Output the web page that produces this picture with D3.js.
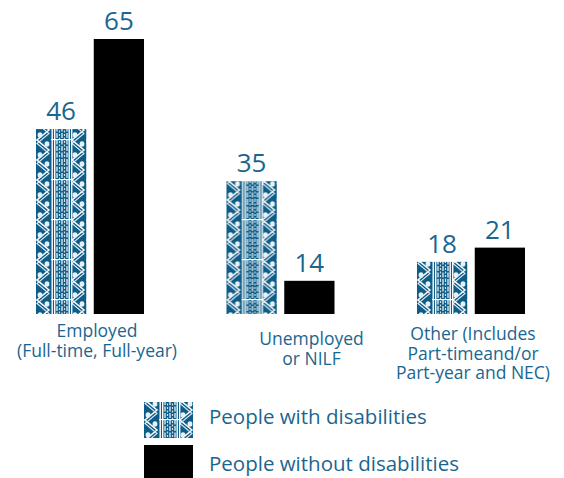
<!DOCTYPE html>
<html><head><meta charset="utf-8">
<script src="https://cdn.jsdelivr.net/npm/d3@7"></script>
<style>body{margin:0;background:#fff}svg{display:block}</style>
</head><body>
<svg id="c" width="564" height="478"></svg>
<script>
const categories = ["Employed", "Unemployed", "Other"];
const categoryLabels = [
  ["Employed", "(Full-time, Full-year)"],
  ["Unemployed", "or NILF"],
  ["Other (Includes", "Part-timeand/or", "Part-year and NEC)"]
];
const seriesNames = ["People with disabilities", "People without disabilities"];
const withDisabilities = [46, 35, 18];
const withoutDisabilities = [65, 14, 21];

const TEXT = "#1a6690", BLUE = "#0d5d88";
const svg = d3.select("#c");
const FONT = "'Open Sans', sans-serif";

// pattern tile
const defs = svg.append("defs");
const pat = defs.append("pattern").attr("id", "tribal")
  .attr("patternUnits", "userSpaceOnUse").attr("width", 50).attr("height", 40);
pat.append("rect").attr("width", 50).attr("height", 40).attr("fill", BLUE);
function zig(x0, x1, off) {
  const pts = [];
  for (let i = -1; i <= 5; i++) pts.push([((i + 2) % 2) ? x1 : x0, i * 10 + off]);
  return d3.line()(pts);
}
[[1, 13], [36, 48]].forEach(([a, b]) => {
  pat.append("path").attr("d", zig(a, b, 0)).attr("fill", "none").attr("stroke", "#fff").attr("stroke-width", 1.5);
  pat.append("path").attr("d", zig(a, b, 3.5)).attr("fill", "none").attr("stroke", "#dfeaf1").attr("stroke-width", 1.1);
  [[b - 2, 1], [b - 2, 21], [a + 3, 12], [a + 3, 32], [b - 2, 41], [b - 2, -19]].forEach(([cx, cy]) =>
    pat.append("ellipse").attr("cx", cx).attr("cy", cy + 3).attr("rx", 2.4).attr("ry", 2.8).attr("fill", "#e8f0f5"));
});
[15.5, 18, 32.5, 35].forEach(x => pat.append("rect").attr("x", x).attr("y", 0).attr("width", 1.4).attr("height", 40).attr("fill", "#fff"));
[21, 23.5, 26, 28.5, 31].forEach((x, i) => pat.append("line").attr("x1", x).attr("x2", x).attr("y1", 0).attr("y2", 40)
  .attr("stroke", i % 2 ? "#cfe0ea" : "#fff").attr("stroke-width", 1.2).attr("stroke-dasharray", i % 2 ? "2,1.5" : "5,1.5"));
pat.append("rect").attr("x", 15).attr("y", 19).attr("width", 21).attr("height", 1.2).attr("fill", "#fff");

// scales
const x0 = d3.scaleBand().domain(categories).range([36, 525]).paddingInner(0.433).paddingOuter(0);
const x1 = d3.scaleBand().domain(seriesNames).range([0, x0.bandwidth()]).paddingInner(0.13).paddingOuter(0);
const y = d3.scaleLinear().domain([7, 65]).range([314, 39]);

const rows = categories.map((c, i) => ({c, vals: [withDisabilities[i], withoutDisabilities[i]]}));
rows.forEach((r, i) => {
  r.vals.forEach((v, s) => {
    const bx = x0(r.c) + x1(seriesNames[s]);
    const g = svg.append("g").attr("transform", `translate(${bx},0)`);
    g.append("rect").attr("x", 0).attr("y", y(v)).attr("width", x1.bandwidth()).attr("height", y(7) - y(v))
      .attr("fill", s === 0 ? "url(#tribal)" : "#000");
    svg.append("text").attr("x", bx + x1.bandwidth() / 2).attr("y", y(v) - 9)
      .attr("text-anchor", "middle").attr("fill", TEXT).attr("font-family", FONT).attr("font-size", 26)
      .text(v);
  });
});

// category labels
const labelDx = [7, 31, 2];
const labelY = [337, 345, 340];
categories.forEach((c, i) => {
  categoryLabels[i].forEach((ln, j) => svg.append("text").attr("text-anchor", "middle").attr("fill", TEXT)
    .attr("font-family", FONT).attr("font-size", 17.5)
    .attr("x", x0(c) + x0.bandwidth() / 2 + labelDx[i]).attr("y", labelY[i] + j * 19.5).text(ln));
});

// legend
const leg = [{y: 402, h: 36, ty: 424}, {y: 445, h: 33, ty: 471}];
seriesNames.forEach((n, s) => {
  const g = svg.append("g").attr("transform", `translate(144,0)`);
  g.append("rect").attr("x", 0).attr("y", leg[s].y).attr("width", 49).attr("height", leg[s].h)
    .attr("fill", s === 0 ? "url(#tribal)" : "#000");
  svg.append("text").attr("x", 209).attr("y", leg[s].ty).attr("fill", TEXT)
    .attr("font-family", FONT).attr("font-size", 20.5).text(n);
});
</script>
</body></html>
